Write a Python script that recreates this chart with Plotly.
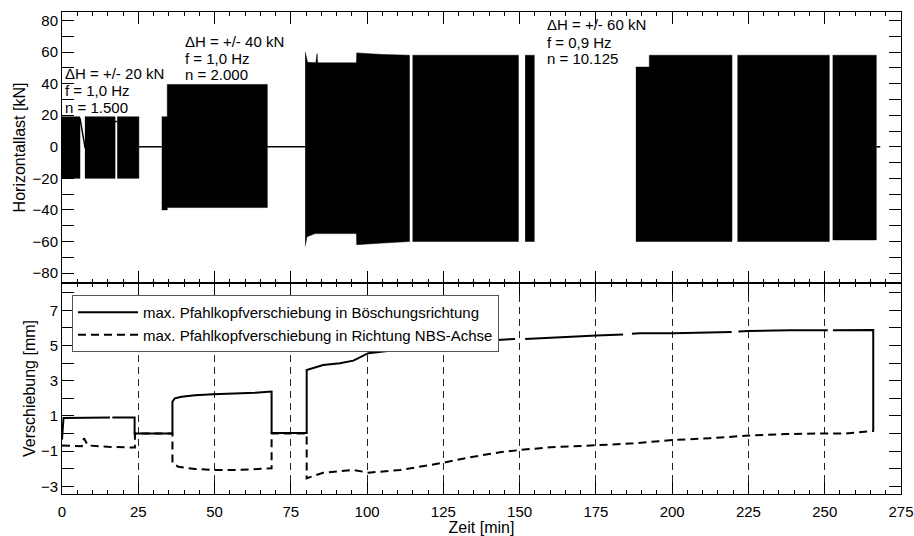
import plotly.graph_objects as go

# ---------------- data ----------------
# Horizontal load envelopes (kN) for each load packet, time in min
blk_t_up = [
    [-0.5, 5.9], [7.5, 17.4], [18.1, 25.2],
    [32.7, 34.5, 34.5, 67.3],
    [79.7, 80.5, 83.2, 83.4, 83.6, 83.8, 96.5, 96.6, 105.0, 113.9],
    [114.9, 149.6], [151.8, 154.8],
    [188.1, 192.5, 192.5, 219.6],
    [221.4, 251.5], [252.6, 266.9],
]
blk_up = [
    [19, 19], [19, 19], [19, 19],
    [19, 19, 39.5, 39.5],
    [60, 53.5, 53.3, 59, 59, 53.2, 53.2, 59.5, 58.5, 58],
    [58, 58], [58, 58],
    [50.5, 50.5, 58, 58],
    [58, 58], [58, 58],
]
blk_t_lo = [
    [-0.5, 5.9], [7.5, 17.4], [18.1, 25.2],
    [32.7, 34.5, 34.5, 67.3],
    [79.7, 80.3, 83.0, 96.5, 96.6, 105.0, 113.9],
    [114.9, 149.6], [151.8, 154.8],
    [188.1, 219.6],
    [221.4, 251.5], [252.6, 266.9],
]
blk_lo = [
    [-20, -20], [-20, -20], [-20, -20],
    [-40, -40, -38.5, -38.5],
    [-63, -57, -55, -55, -62, -61, -60],
    [-60, -60], [-60, -60],
    [-60, -60],
    [-60, -60], [-59, -59],
]
# load trace between packets
line_t = [5.9, 7.6, None, 17.4, 18.1, None, 25.2, 32.7, None, 67.3, 79.7, None, 266.9, 268.2]
line_v = [18, -1, None, 16, 16, None, 0, 0, None, 0, 0, None, 0, 0]

# annotations (load packets)
ann_text = ["ΔH = +/- 20 kN", "f = 1,0 Hz", "n = 1.500",
            "ΔH = +/- 40 kN", "f = 1,0 Hz", "n = 2.000",
            "ΔH = +/- 60 kN", "f = 0,9 Hz", "n = 10.125"]
ann_t = [0.3, 0.3, 0.3, 39.6, 39.6, 39.6, 158.3, 158.3, 158.3]
ann_v = [46.6, 35.6, 24.8, 66.5, 56.1, 45.8, 77.2, 66.3, 55.9]

# Pile head displacement (mm)
t_boesch = [0, 0.5, 15.7, None, 16.5, 23.8, 23.8, 36.2, 36.2, 37.0, 39.2, 43.6, 49.6, 57.8,
            63.3, 68.7, 68.7, 80.2, 80.2, 85.6, 91.1, 95.5, 100.4, 105.3, 110.8, 114.2, None,
            116.2, 119.5, 125.0, 134.8, 142.5, 148.5, None, 151.8, 165.4, 175.2, 183.9, None,
            186.8, 189.4, 200.4, 212.4, 219.5, None, 221.7, 225.0, 238.6, 251.0, None,
            252.7, 265.9, 265.9]
v_boesch = [-0.35, 0.88, 0.9, None, 0.9, 0.9, 0.0, 0.0, 1.81, 2.0, 2.09, 2.17, 2.23, 2.26,
            2.32, 2.38, 0.02, 0.02, 3.61, 3.89, 3.99, 4.14, 4.56, 4.65, 4.8, 4.85, None,
            4.88, 4.9, 5.03, 5.16, 5.31, 5.37, None, 5.37, 5.5, 5.56, 5.62, None,
            5.66, 5.69, 5.69, 5.75, 5.77, None, 5.79, 5.82, 5.86, 5.87, None,
            5.87, 5.88, 0.1]
t_nbs = [0, 6.5, 7.2, 8.5, 15.0, 23.9, 23.9, 36.2, 36.2, 38.1, 43.6, 49.6, 57.8, 63.3, 68.7,
         68.7, 80.2, 80.2, 85.6, 95.5, 100.4, 107.0, 110.8, 116.3, 125.0, 134.8, 143.6, 150.1,
         160.0, 175.2, 187.3, 200.4, 212.4, 225.0, 237.5, 250.6, 257.0, 265.9]
v_nbs = [-0.68, -0.72, -0.27, -0.68, -0.76, -0.8, 0.0, 0.0, -1.69, -1.89, -2.02, -2.07, -2.07,
         -2.02, -1.98, 0.0, 0.0, -2.55, -2.23, -2.07, -2.23, -2.13, -2.07, -1.92, -1.66, -1.32,
         -1.07, -0.94, -0.78, -0.67, -0.56, -0.37, -0.27, -0.12, -0.03, 0.0, 0.0, 0.14]

name_boesch = "max. Pfahlkopfverschiebung in Böschungsrichtung"
name_nbs = "max. Pfahlkopfverschiebung in Richtung NBS-Achse"

# ---------------- figure ----------------
FONT = "Liberation Sans, Arial, Helvetica, sans-serif"
fig = go.Figure()

for tu, vu, tl, vl in zip(blk_t_up, blk_up, blk_t_lo, blk_lo):
    fig.add_trace(go.Scatter(
        x=tu + tl[::-1], y=vu + vl[::-1], mode="lines", fill="toself",
        fillcolor="black", line=dict(color="black", width=0.5),
        showlegend=False, hoverinfo="skip", xaxis="x", yaxis="y"))

fig.add_trace(go.Scatter(x=line_t, y=line_v, mode="lines",
                         line=dict(color="black", width=1.5), showlegend=False,
                         xaxis="x", yaxis="y"))

fig.add_trace(go.Scatter(x=t_boesch, y=v_boesch, mode="lines", name=name_boesch,
                         line=dict(color="black", width=2), xaxis="x2", yaxis="y2"))
fig.add_trace(go.Scatter(x=t_nbs, y=v_nbs, mode="lines", name=name_nbs,
                         line=dict(color="black", width=2, dash="8px,5px"),
                         xaxis="x2", yaxis="y2"))

for txt, t, v in zip(ann_text, ann_t, ann_v):
    fig.add_annotation(x=t, y=v, xref="x", yref="y", text=txt, showarrow=False,
                       xanchor="left", yanchor="middle",
                       font=dict(family=FONT, size=15, color="black"))

split = 211 / 482
axis_common = dict(showline=True, linecolor="black", linewidth=1, mirror="ticks",
                   ticks="inside", tickcolor="black", zeroline=False, automargin=False)
fig.update_layout(
    width=914, height=536,
    margin=dict(l=62, r=13, t=12, b=42),
    paper_bgcolor="white", plot_bgcolor="white",
    font=dict(family=FONT, size=15, color="black"),
    xaxis=dict(domain=[0, 1], range=[0, 275], anchor="y", showticklabels=False,
               tick0=0, dtick=25, ticklen=12, showgrid=False,
               minor=dict(dtick=5, ticklen=4, ticks="inside", tickcolor="black"),
               **axis_common),
    yaxis=dict(domain=[split, 1], range=[-86.3, 85.4], anchor="x",
               tick0=0, dtick=20, ticklen=12, showgrid=False,
               minor=dict(dtick=10, ticklen=12, ticks="inside", tickcolor="black"),
               title=dict(text="Horizontallast [kN]", font=dict(size=16), standoff=2),
               **axis_common),
    xaxis2=dict(domain=[0, 1], range=[0, 275], anchor="y2",
                tick0=0, dtick=25, ticklen=12, ticklabelstandoff=4,
                showgrid=True, gridcolor="#222", gridwidth=1, griddash="7px,5px",
                minor=dict(dtick=5, ticklen=4, ticks="inside", tickcolor="black"),
                title=dict(text="Zeit [min]", font=dict(size=16), standoff=8),
                **axis_common),
    yaxis2=dict(domain=[0, split], range=[-3.44, 8.55], anchor="x2",
                tick0=1, dtick=2, ticklen=12, showgrid=False,
                minor=dict(dtick=1, ticklen=12, ticks="inside", tickcolor="black"),
                title=dict(text="Verschiebung [mm]", font=dict(size=16), standoff=1),
                **axis_common),
    legend=dict(x=0.0119, y=0.413, xanchor="left", yanchor="top",
                bgcolor="white", bordercolor="#555", borderwidth=1,
                font=dict(size=15), itemwidth=60, tracegroupgap=0),
    showlegend=True,
)

# remove the default 8px page margin so the figure fills the window exactly
fig.write_html("out.html", config={"displayModeBar": False},
               post_script="document.body.style.margin='0';")
